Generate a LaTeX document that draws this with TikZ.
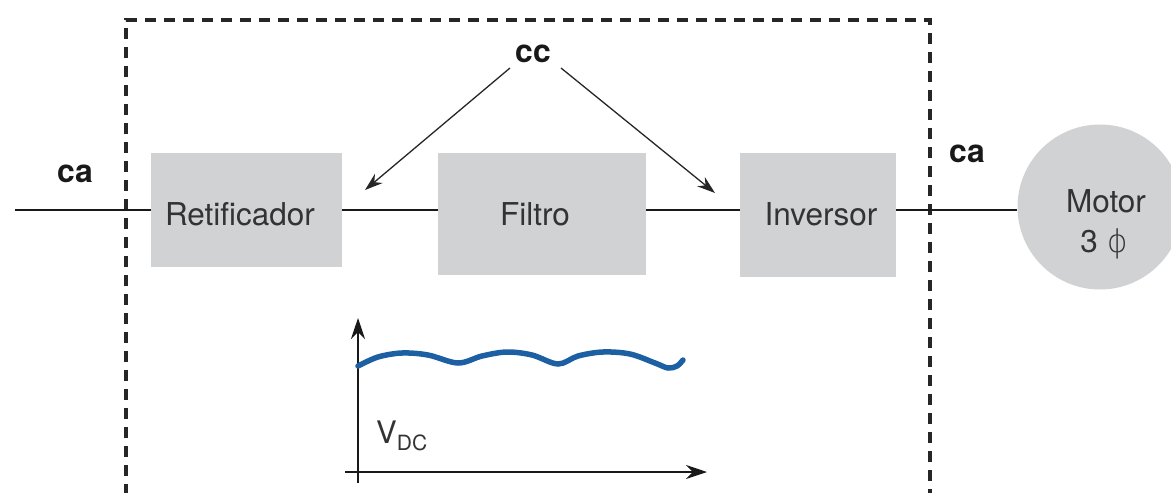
\documentclass[tikz,border=0pt]{standalone}
\usepackage{fontspec}
\setmainfont{TeX Gyre Heros}
\newfontfamily\dvfont{DejaVu Sans ExtraLight}
\usetikzlibrary{arrows.meta}
\definecolor{boxgray}{HTML}{D1D2D4}
\definecolor{txtgray}{HTML}{333333}
\definecolor{wave}{HTML}{1D5FA3}
\tikzset{
  blk/.style={fill=boxgray, draw=none, inner sep=0pt},
  btxt/.style={inner sep=0pt, text=txtgray, font=\fontsize{31.5}{34}\selectfont},
  lbl/.style={inner sep=0pt, font=\fontsize{32}{34}\selectfont\bfseries, text=black!90},
  wire/.style={line width=2.9pt, black!90},
  ccarrow/.style={line width=1.3pt, black!85, -{Stealth[length=18pt,width=12pt]}},
  axis/.style={line width=1.7pt, black!90, -{Stealth[length=21pt,width=14pt]}},
  frame/.style={line width=3.2pt, black!85, dash pattern=on 11pt off 8pt}
}
\begin{document}
\begin{tikzpicture}[x=1pt,y=-1pt]
\useasboundingbox (0,0) rectangle (1171,493);
% dashed enclosure
\draw[frame] (126,495) -- (126,20) -- (930,20) -- (930,495);
% blocks
\node[blk, minimum width=191pt, minimum height=114pt] (ret) at (246.5,210) {};
\node[blk, minimum width=208pt, minimum height=122pt] (fil) at (542,214) {};
\node[blk, minimum width=156pt, minimum height=124pt] (inv) at (818,215) {};
\node[circle, fill=boxgray, inner sep=0pt, minimum size=165pt] (mot) at (1100,207) {};
\node[btxt] (tret) at (240,214) {Retificador};
\node[btxt] (tfil) at (535,214) {Filtro};
\node[btxt] (tinv) at (821,214) {Inversor};
\node[btxt] (tmot) at (1106,201) {Motor};
\node[btxt] (tphi) at (1104,244) {3 {\dvfont ϕ}};
% wires
\coordinate (in) at (15,210);
\draw[wire] (in) -- (in -| ret.west);
\draw[wire] (ret.east) -- (ret.east -| fil.west);
\draw[wire] (ret.east -| fil.east) -- (ret.east -| inv.west);
\draw[wire] (ret.east -| inv.east) -- (ret.east -| mot.west);
% labels
\node[lbl] (caL) at (75,174) {ca};
\node[lbl] (caR) at (967,154) {ca};
\node[lbl] (cc) at (533,54) {cc};
\coordinate (ccl) at (510,68);
\coordinate (ccr) at (561,68);
\coordinate (tl) at (365,190);
\coordinate (tr) at (715,193);
\draw[ccarrow] (ccl) -- (tl);
\draw[ccarrow] (ccr) -- (tr);
% axes
\coordinate (o1) at (358,483);
\coordinate (ytop) at (358,318);
\coordinate (x0) at (345,472);
\coordinate (xend) at (707,472);
\draw[axis] (o1) -- (ytop);
\draw[axis] (x0) -- (xend);
\node[inner sep=0pt, text=txtgray, font=\fontsize{31}{34}\selectfont, anchor=base west] (vdc) at (376,443) {V\raisebox{-7pt}{\fontsize{21}{24}\selectfont DC}};
% wave
\draw[wave, line width=5.5pt, line cap=round] plot[smooth, tension=0.55] coordinates
 {(358,366) (378,357) (402,353) (428,355) (458,363) (482,356) (507,352) (532,355) (558,364) (578,356) (603,352) (630,354) (655,363) (668,368) (677,366) (683,360)};
\end{tikzpicture}
\end{document}
